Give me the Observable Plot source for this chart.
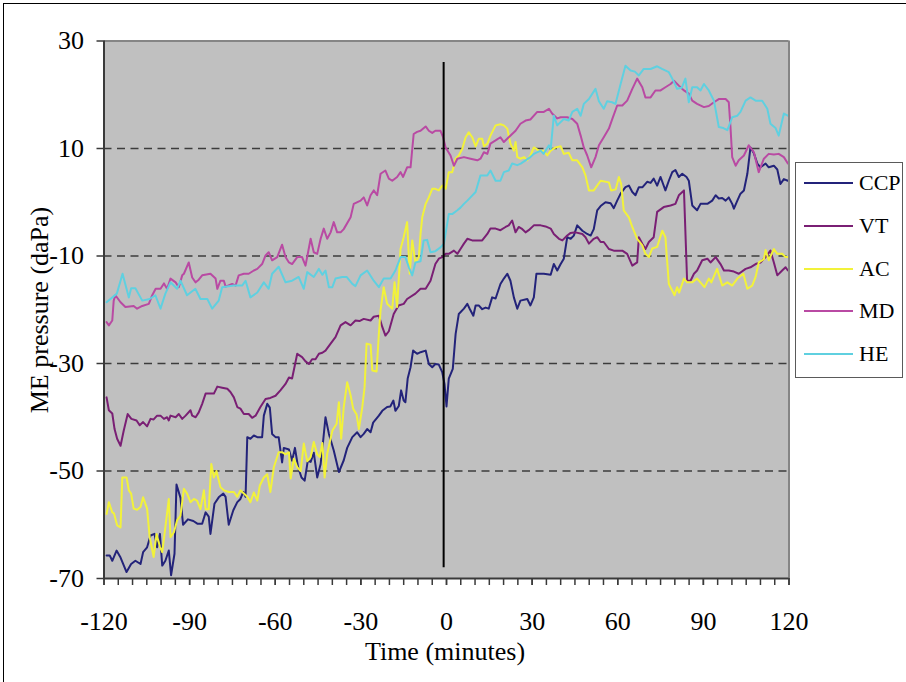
<!DOCTYPE html>
<html><head><meta charset="utf-8">
<script src="https://cdn.jsdelivr.net/npm/d3@7"></script>
<script src="https://cdn.jsdelivr.net/npm/@observablehq/plot@0.6"></script>
<style>
html,body{margin:0;padding:0;background:#fff;width:906px;height:682px;overflow:hidden;font-family:"Liberation Serif","Times New Roman",serif;color:#000;}
#frame{position:absolute;left:3px;top:3px;width:1200px;height:1200px;border:1.5px solid #000;}
#chart{position:absolute;left:0;top:0;}
#legend{position:absolute;left:795px;top:162px;width:106px;height:214px;border:1.5px solid #5a5a5a;background:#fff;}
.sw{position:absolute;left:8px;width:49px;height:2px;}
.lbl{position:absolute;left:63px;font-size:22px;line-height:22px;}
#xlabel{position:absolute;left:445px;top:652px;transform:translate(-50%,-50%);font-size:26px;line-height:26px;white-space:nowrap;}
#ylabel{position:absolute;left:40px;top:310px;transform:translate(-50%,-50%) rotate(-90deg);font-size:26px;line-height:26px;white-space:nowrap;}
</style></head>
<body>
<div id="frame"></div>
<div id="chart"></div>
<div id="legend"></div>
<div id="xlabel"></div>
<div id="ylabel"></div>
<script>
// ---- tick / axis values ----
const xTickValues = [-120, -90, -60, -30, 0, 30, 60, 90, 120];
const xTickLabels = ["-120", "-90", "-60", "-30", "0", "30", "60", "90", "120"];
const xMinorTicks = d3.range(-120, 121, 5);
const yTickValues = [-70, -50, -30, -10, 10, 30];
const yTickLabels = ["-70", "-50", "-30", "-10", "10", "30"];
const gridValues = [-50, -30, -10, 10];
const xTitle = "Time (minutes)";
const yTitle = "ME pressure (daPa)";
const eventMarker = [{t: -1, from: -68, to: 26}];

// ---- series ([time in minutes, pressure in daPa]) ----
const seriesNames = ["CCP", "VT", "AC", "MD", "HE"];
const seriesColors = ["#23237a", "#7a1f74", "#f2f23a", "#b94aa3", "#5fd0e0"];

const ccp = [[-119.1,-65.7],[-118,-65.7],[-117.1,-66.7],[-115.6,-64.8],[-114.2,-66.1],[-112.1,-68.8],[-110.5,-67.3],[-109,-66.7],[-107.2,-67.3],[-106.3,-65.1],[-104.9,-64.2],[-103.7,-62],[-102.3,-61.7],[-101.4,-64.2],[-100.4,-61.7],[-99.6,-67.6],[-98.5,-66.7],[-97.3,-64.8],[-96.5,-69.4],[-95.3,-65.4],[-94.6,-52.5],[-93.2,-55],[-92.3,-60],[-90.6,-59],[-88.7,-59.3],[-87.3,-59.8],[-85.6,-59.8],[-84.4,-57.7],[-83.3,-58.5],[-82.7,-61.7],[-81.3,-56.1],[-79.8,-54.9],[-78.2,-54.2],[-77.4,-54.8],[-76.3,-60],[-74.7,-57.3],[-73.3,-55.8],[-72.2,-55.2],[-71.2,-53.9],[-70.4,-54.8],[-69.8,-43.7],[-68.7,-44],[-67.5,-43.4],[-66.3,-43.7],[-64.6,-43.7],[-64,-39.7],[-62.8,-37.5],[-61.9,-38.2],[-61.1,-43.1],[-59.9,-43.7],[-58.8,-43.7],[-57.6,-48.4],[-57,-45.7],[-55.2,-46],[-54.1,-48.1],[-53.1,-45.7],[-52,-49.3],[-50.8,-51.2],[-49.7,-51.8],[-48.6,-48.1],[-47.6,-48.3],[-46.5,-46.6],[-45.3,-51.2],[-44.1,-48.7],[-43.2,-44.3],[-42.4,-40],[-41.2,-43.1],[-39.5,-46.2],[-37.7,-50.2],[-36,-48],[-34.8,-45.7],[-33,-43.7],[-31.3,-42.8],[-30.1,-43.7],[-29,-43.1],[-27.8,-42.2],[-26.6,-42.8],[-25.7,-41],[-23.7,-39.7],[-22.5,-38.8],[-20.8,-38.1],[-19.7,-38],[-18.6,-36.9],[-17.9,-38.8],[-16.7,-37.9],[-15.9,-35],[-15,-36.9],[-14.4,-37.2],[-13.6,-32.8],[-12.6,-30.7],[-11.7,-27.6],[-10.3,-28.2],[-9.1,-27.9],[-7.3,-27.6],[-6.2,-30.1],[-5,-30.7],[-3.9,-30.1],[-2.7,-30.2],[-1.5,-31.6],[-0.7,-33.8],[0,-38],[0.8,-32.8],[2.2,-31],[3.2,-24.5],[4.3,-20.8],[6.1,-19.8],[7.3,-18.9],[8.2,-19.9],[9.4,-21.1],[10.2,-19.2],[11.3,-19.2],[12.5,-19.9],[13.7,-19.6],[14.8,-19.8],[16,-17.7],[17.2,-17.9],[18.9,-15.2],[20.1,-14.2],[21.3,-13.3],[22.4,-14.6],[23.6,-17.7],[24.8,-19.8],[25.9,-18.3],[28.3,-18],[29.4,-19.2],[30.6,-17.7],[31.5,-13.3],[34.1,-13.3],[36.5,-13.5],[37.6,-11.5],[38.8,-12.7],[40,-11.5],[41.1,-10.5],[42.3,-6.5],[43.5,-6.8],[44.6,-6.2],[45.8,-4.3],[47.6,-5.3],[49.3,-5.9],[50.5,-6.2],[51.6,-5],[52.8,-1.5],[54,-0.7],[55.7,0],[57.5,-0.2],[58.6,-1.1],[59.8,0.3],[61,1.6],[62.7,2.8],[63.9,3.1],[65.1,1.9],[66.2,1.3],[67.4,2.8],[68.7,2.8],[70.3,3.8],[71.5,3.6],[72.6,4.4],[73.8,3.1],[75,4.7],[76.7,2.2],[77.9,4],[79.1,5.6],[80.2,6],[81.4,4.7],[82.6,5.3],[84.1,4.7],[84.9,4],[86.1,-0.6],[87.8,-1.5],[89,-0.3],[91.4,-0.3],[93.1,0.3],[94.3,1.3],[95.4,0.7],[96.6,0.8],[97.8,0.3],[98.9,0.9],[100.1,-0.3],[100.7,-1.2],[101.9,0.3],[103,1.6],[104.2,2.2],[105.4,5.3],[106.5,10.2],[107.7,9.1],[108.9,7.2],[110,6.5],[111.8,7.2],[112.9,6.5],[114.7,6.8],[115.9,6.1],[117,3.4],[118.2,4.3],[119.6,4]];

const vt = [[-119.1,-36.3],[-118.3,-38.7],[-117.1,-39.3],[-116.3,-42.2],[-115.4,-44],[-114.2,-45.3],[-113.1,-42.5],[-111.7,-39.4],[-110.4,-40.3],[-108.6,-40.6],[-107.5,-41.5],[-106.3,-40.9],[-104.9,-41.7],[-103.7,-40.3],[-102.6,-40.4],[-101.4,-39.7],[-100.2,-39.7],[-99,-40.3],[-97.9,-40],[-97.3,-40.6],[-96.7,-39.7],[-94.9,-40],[-93.8,-39.4],[-92.6,-40.3],[-91.4,-39.7],[-89.7,-38.7],[-89.1,-39.7],[-87.9,-40],[-86.8,-39.1],[-85.6,-37.5],[-84.4,-35.6],[-82.7,-35.6],[-81.5,-35.6],[-80.3,-34.3],[-78.6,-34.5],[-76.8,-34.7],[-75.7,-35.3],[-74.5,-36.3],[-73.3,-38.1],[-72.2,-38.4],[-71,-39.4],[-69.3,-39.4],[-68.1,-40.1],[-66.9,-39.7],[-65.2,-38.1],[-63.4,-36.6],[-61.7,-36.4],[-59.9,-36],[-58.2,-35],[-56.4,-33.8],[-55.2,-32.6],[-54.1,-32.8],[-52.3,-28.2],[-50.6,-28.8],[-49.4,-29.6],[-48.2,-30.1],[-47.1,-29.2],[-45.9,-29.2],[-44.7,-28.2],[-43.5,-28],[-42.4,-27.6],[-40.6,-26.3],[-38.9,-25.1],[-37.1,-22.9],[-35.4,-22.3],[-33.6,-22.9],[-31.9,-22],[-30.5,-22.1],[-29,-21.7],[-26.6,-22],[-25.5,-21.3],[-23.7,-21.1],[-22.5,-23.2],[-21.4,-24.8],[-20.2,-24],[-18.5,-20.8],[-16.8,-19.2],[-15,-18.9],[-13.8,-18],[-10.9,-17],[-9.1,-16.1],[-7.3,-16.1],[-5.6,-14.6],[-3.9,-11.5],[-2.7,-10.5],[-1.5,-10.2],[-0.3,-9.6],[0.8,-9.6],[2.6,-9],[3.8,-9.6],[4.9,-8.7],[6.1,-7.7],[7.3,-6.8],[9,-7.1],[10.8,-7.1],[12.5,-7.1],[14.3,-5.9],[15.4,-4.9],[17.2,-4.9],[18.9,-5.2],[20.7,-4.6],[21.8,-4.3],[23,-3.4],[24.2,-5.6],[25.3,-4.6],[26.3,-4.9],[27.7,-5.6],[28.8,-5.2],[30.6,-4.3],[33,-4.3],[34.7,-4.5],[36.5,-4.9],[37.6,-5.9],[39.4,-6.8],[40.6,-7.1],[42.3,-6.2],[43.5,-5.7],[45.2,-5.6],[47.6,-5.9],[48.7,-6.5],[49.9,-7.7],[51.6,-6.8],[52.8,-6.5],[54,-7.4],[55.1,-7.4],[56.9,-8.7],[58.6,-9],[60.4,-9],[61.6,-9],[63.3,-9.6],[65.1,-11.8],[66.8,-11.2],[67.4,-6.5],[68.6,-7.7],[69.7,-8.7],[70.9,-7.4],[72.6,-6.5],[73.8,-1.8],[76.1,-0.9],[78.5,-0.6],[80.2,-0.3],[81.4,1.3],[83.2,2.2],[84.3,-14.6],[85.5,-14.6],[86.7,-13.3],[87.8,-12.7],[89.6,-10.8],[91.4,-10.5],[92.5,-11.2],[94.3,-10.2],[96,-11.5],[97.2,-12.7],[98.9,-12.7],[100.7,-12.9],[102.4,-13.3],[104.8,-12.4],[106.5,-12.1],[108.3,-11.5],[110,-11.2],[111.8,-10.2],[113.5,-9],[114.7,-11.2],[115.9,-13.6],[117.6,-12.7],[118.8,-12.1],[119.6,-12.7]];

const ac = [[-119.1,-58],[-118.3,-55.8],[-117.1,-57.7],[-116.5,-57.9],[-115.4,-60.1],[-114.2,-60.5],[-113.6,-51.2],[-112.1,-51.2],[-111.3,-53.6],[-110.5,-54.2],[-109.6,-57],[-108.4,-57.2],[-107.2,-56.7],[-106.3,-54.9],[-104.9,-57],[-104,-62.3],[-102.6,-66],[-101.6,-61.7],[-100.4,-64.1],[-99.6,-65.1],[-98.5,-60.5],[-97.3,-55.2],[-96.7,-62.3],[-95.5,-61.4],[-94.4,-59.2],[-93.2,-58.3],[-92,-53.3],[-90.9,-54.2],[-89.7,-55.8],[-88.5,-55.2],[-87.4,-55.5],[-86.2,-57.1],[-85,-53.6],[-84.4,-57.1],[-83.3,-57.1],[-82.4,-48.7],[-81.5,-51.2],[-80.6,-50],[-79.2,-53],[-78,-53.6],[-76.3,-53.9],[-74.5,-53.9],[-73.3,-54.8],[-72.2,-53.6],[-71,-54.2],[-69.8,-54.8],[-68.7,-55.8],[-67.5,-54],[-66.3,-55.5],[-65.4,-52.7],[-64,-51.2],[-62.8,-50.6],[-61.7,-53.9],[-60.5,-49.3],[-58.8,-46.5],[-57.6,-46.5],[-56.4,-46.9],[-55.2,-46.5],[-54.6,-51.4],[-53.5,-47.7],[-52.3,-49.3],[-51.1,-50],[-50,-44.9],[-48.8,-48.2],[-47.6,-47.4],[-46.5,-44.6],[-45.3,-46.9],[-44.4,-47.4],[-43.5,-44.8],[-42.7,-51.2],[-41.8,-46.8],[-40,-42.5],[-38.5,-41.2],[-37.7,-37.2],[-36.9,-44],[-36,-38.1],[-34.8,-33.5],[-33.6,-35.9],[-32.7,-38.4],[-31.5,-39.5],[-30.7,-42.2],[-29.5,-38.1],[-28.7,-34.4],[-28,-26.3],[-26.6,-26.5],[-26,-31.3],[-24.5,-31.5],[-23.7,-24.5],[-23.1,-20.1],[-22,-15.8],[-20.8,-18.9],[-19,-19.8],[-18.2,-14.9],[-17.3,-19.5],[-16.1,-8.7],[-15,-6.5],[-13.8,-3.7],[-12.9,-13.3],[-12,-7.1],[-10.9,-11.2],[-9.7,-10.2],[-9.1,-5.9],[-8.5,-2.8],[-7.3,-0.3],[-6.2,0.9],[-5,2.5],[-3.9,2.5],[-2.7,2.2],[-1.5,3.1],[-0.3,2.5],[0.8,5.6],[2,5.6],[3.2,8.1],[4.3,8.7],[5.5,9.9],[6.7,12.1],[7.8,13],[9,12.1],[10.2,10.4],[11.3,11.8],[12.5,11.8],[13.1,10.4],[14.3,10.9],[15.4,12.4],[17.2,14.3],[18.9,14.5],[20.1,14.3],[21.3,13.7],[22.4,10.9],[23.6,9.6],[24.2,11.2],[24.8,8.4],[25.9,8.1],[27.2,8.4],[28.3,7.8],[29.4,8.7],[30.6,10.2],[32.4,9.6],[34,9.6],[35.3,8.7],[36.5,9.6],[38.2,10.2],[40,10.4],[41.1,9],[42.8,9.2],[44.1,7.8],[45.8,7.8],[47.6,6.5],[48.7,5],[49.9,2.2],[51.6,2.2],[54,4],[56.9,3.7],[57.7,2.2],[59.3,2.4],[60.4,4.7],[61.2,3.4],[62.1,-1.5],[63.9,-2.8],[65.1,-4.6],[66.8,-6.8],[68.6,-8],[69.7,-9.6],[70.9,-10.2],[72.1,-8.6],[73.8,-8.3],[75.6,-5.3],[76.7,-6.5],[77.9,-15.2],[79.9,-17.3],[80.8,-15.8],[81.5,-16.8],[83.2,-14.2],[84.3,-14.9],[86.1,-14.9],[87.8,-14.2],[90.4,-15.8],[91.9,-14.2],[92.8,-14.9],[94.8,-12.4],[96.6,-15.5],[98.4,-14.9],[100.1,-15.5],[101.9,-14.2],[104,-13.3],[105.4,-16.1],[107.1,-15.5],[108.3,-13.9],[109.4,-11.2],[111.2,-10.6],[111.8,-8.9],[112.9,-10.8],[114.7,-8.7],[115.9,-9.6],[117.6,-9.6],[118.8,-10.2],[119.6,-10.2]];

const md = [[-119.1,-22.3],[-118.3,-22.9],[-117.1,-22],[-116.6,-18.3],[-116,-17.3],[-114.2,-18.6],[-112.5,-19.5],[-109.6,-19.3],[-108.4,-19.8],[-106.6,-19.3],[-104.3,-18.9],[-103.1,-17.3],[-101.9,-16.1],[-100.2,-16.1],[-99,-15.1],[-97.9,-16.1],[-96.7,-14.2],[-94.9,-14.9],[-93.8,-15.8],[-92.6,-13.6],[-92,-13.3],[-90.3,-11.2],[-89.1,-14],[-87.9,-14.9],[-86.8,-14.4],[-85.6,-13.6],[-82.7,-13.3],[-80.9,-14.2],[-80.3,-16.1],[-79.2,-14.6],[-78,-14.6],[-77.4,-15.7],[-75.1,-15.2],[-73.9,-15.5],[-72.8,-13.6],[-71,-13.3],[-69.3,-13.3],[-67.5,-12.7],[-66.3,-12.4],[-64.6,-11.5],[-63.4,-9.9],[-62.3,-9.3],[-61.1,-10.8],[-59.3,-10.2],[-57.6,-7.9],[-56.4,-10.2],[-55.2,-11.2],[-54.1,-11.5],[-52.3,-10.2],[-50.6,-10.2],[-49.4,-11.8],[-47.6,-6.8],[-46.5,-9.3],[-45.3,-9.6],[-44.1,-6.8],[-43,-4.9],[-41.8,-6.8],[-40.6,-5.6],[-39.5,-3.7],[-38.3,-5.6],[-37.1,-5.6],[-36,-5],[-33.6,-2.8],[-32.5,-0.3],[-30.1,0.3],[-29,0.9],[-27.8,-0.6],[-26.6,1.3],[-25.5,2.2],[-24.3,1.3],[-23.1,5.3],[-21.4,5.9],[-20.2,4.4],[-19,4],[-17.3,4.7],[-16.1,5.6],[-15.2,4.7],[-13.8,6.5],[-12.6,6.5],[-11.5,12.7],[-10.3,13.1],[-9.1,13.3],[-7.3,14.1],[-6.2,13.3],[-5,12.9],[-3.9,13.3],[-2.1,13.3],[-1.2,12.1],[-0.3,10.2],[1.4,8.7],[2.6,6.8],[3.8,8.1],[6.1,8.4],[8.4,8.1],[10.8,7.8],[11.9,8.1],[13.1,9.3],[14.3,9],[15.4,10.9],[17.2,11.5],[18.9,12.1],[20.1,11.2],[21.8,12.1],[24.2,13.3],[25.9,14.6],[27.7,15.2],[29.4,15.4],[31.8,16.8],[34.1,16.8],[35.9,17.4],[37,16.5],[38.8,15.6],[40,15.8],[42.3,15.8],[44.1,15.5],[45.8,14.6],[47,12.4],[48.1,10.2],[49.3,8.7],[50.7,6.5],[52.2,8.4],[53.4,10.6],[55.1,12.1],[56.9,13.7],[58.1,15.5],[59.8,18],[61.6,18],[63.3,18.9],[65.1,21.1],[66.8,23],[68.6,21.4],[69.7,19.5],[71.5,19.5],[73.2,20.8],[75,20.8],[76.7,21.4],[78.5,22],[79.7,22.6],[81.4,21.7],[83.2,20.8],[84.9,20.2],[86.1,18.9],[87.8,18.3],[90.2,17.7],[91.9,17.9],[93.7,18.6],[95.4,19.2],[97.8,19.2],[98.9,18.6],[99.5,14],[100.1,8.4],[101.3,6.8],[102.4,7.8],[104.2,8.7],[105.9,10.6],[107.7,9.3],[109.4,5.6],[111.2,8.1],[112.9,9],[114.7,8.9],[116.4,9],[118.2,8.4],[119.6,7.2]];

const he = [[-119.1,-18.6],[-115.5,-17],[-113.5,-13.3],[-111.3,-17.7],[-110.5,-16],[-109,-16],[-106.6,-18.3],[-104,-18],[-102,-17.3],[-100.2,-19.8],[-98.5,-17],[-96.7,-14.9],[-94.4,-16.1],[-93.2,-14.6],[-90.9,-17.3],[-88,-16.1],[-86.2,-18],[-83.8,-18],[-82.1,-19.8],[-79.8,-18.3],[-78.6,-15.8],[-74.5,-15.5],[-71.6,-15.5],[-70.4,-14.6],[-68.7,-17.7],[-66.3,-16.8],[-64,-14.9],[-62.3,-16.1],[-61.1,-13.3],[-58.8,-12],[-56.4,-14.9],[-54.1,-14.6],[-51.8,-13.9],[-50,-16.1],[-48.8,-13],[-46.5,-13.9],[-44.7,-12.4],[-43.5,-13.5],[-42.4,-12.7],[-41.2,-15.8],[-40,-15.8],[-38.9,-14.2],[-36.5,-13.9],[-35,-13.9],[-33,-15.2],[-31.9,-15.6],[-30.1,-13.6],[-27.8,-12.7],[-25.5,-14.6],[-23.7,-15.8],[-22,-14.2],[-19.6,-14.2],[-17.9,-12.7],[-16.1,-10.2],[-14.4,-10.2],[-13.2,-12.1],[-12,-13.6],[-10.9,-11.2],[-9.1,-11],[-8,-7.1],[-6.8,-7],[-5.6,-9.3],[-3.9,-9.1],[-2.1,-8.4],[-0.9,-7.7],[0.8,-2.2],[2,-2.2],[3.8,-1.5],[4.9,-1],[6.1,-0.3],[7.3,0.3],[8.4,0.9],[10.2,1.9],[11.9,5],[14.3,5],[15.4,5.9],[17.2,4],[18.9,4],[20.1,5.6],[21.8,5.9],[23,7.2],[24.8,6.9],[26,7.2],[27.7,7.8],[29.4,8.4],[30.6,9],[33,9.6],[34,9],[35.9,10.6],[36.5,9.9],[37.6,16.1],[38.8,14.3],[41.1,15.5],[42.8,15.2],[44.1,16.8],[45.8,17.4],[47,16.1],[48.1,18.3],[49.9,19.2],[52.2,21.1],[53.4,18.8],[55.1,17.4],[56.3,18.8],[58,18.6],[59.2,18.3],[61,22],[62.7,25.4],[64.5,24.5],[66,24.3],[67.4,23.6],[69.1,24.8],[71.5,24.8],[73.8,25.3],[75.5,24.8],[77.9,24.2],[79.1,23],[80.8,21.1],[82.4,21.3],[83.7,23],[84.9,18.6],[86.1,21.4],[87.8,21.4],[89,20.8],[90.2,22],[91.9,20.8],[93.7,18.9],[95.4,14],[97,13.8],[98.4,13.4],[100.1,15.8],[101.9,16.1],[103,16.8],[104.8,18.9],[106.5,19.5],[108.3,18.9],[110.6,18.9],[112.4,17.4],[113.5,14.6],[115.3,13.8],[116.4,12.4],[118.2,16.5],[119.6,16.1]];

const seriesData = [ccp, vt, ac, md, he];
const rows = seriesData.flatMap((arr, i) => arr.map(([t, v]) => ({series: seriesNames[i], t, v})));

const axisDark = "#3a3a3a";
const chart = Plot.plot({
  width: 906,
  height: 682,
  marginLeft: 103.5,
  marginRight: 117.5,
  marginTop: 40.5,
  marginBottom: 104,
  style: {background: "transparent", fontFamily: '"Liberation Serif", "Times New Roman", serif', fontSize: "26px", color: "#000", overflow: "visible"},
  x: {domain: [-120, 120]},
  y: {domain: [-70, 30]},
  marks: [
    Plot.frame({fill: "#c0c0c0", stroke: "none"}),
    Plot.ruleY(gridValues, {stroke: "#3c3c3c", strokeWidth: 1.5, strokeDasharray: "8,5.5"}),
    ...seriesNames.map((name, i) => Plot.line(rows.filter(d => d.series === name), {x: "t", y: "v", stroke: seriesColors[i], strokeWidth: 2, strokeLinejoin: "round"})),
    Plot.ruleX(eventMarker, {x: "t", y1: "from", y2: "to", stroke: "#000", strokeWidth: 2}),
    Plot.ruleY([30], {stroke: "#858585", strokeWidth: 2}),
    Plot.ruleX([120], {stroke: "#858585", strokeWidth: 2}),
    Plot.ruleX([-120], {stroke: axisDark, strokeWidth: 2}),
    Plot.ruleY([-70], {stroke: axisDark, strokeWidth: 2}),
    Plot.axisX({ticks: xMinorTicks, tickSize: 7, tickFormat: () => "", stroke: axisDark, strokeWidth: 1.5, label: null}),
    Plot.axisX({ticks: xTickValues, tickSize: 7, tickPadding: 26, stroke: axisDark, strokeWidth: 1.5, fill: "#000", label: null,
      tickFormat: d => xTickLabels[xTickValues.indexOf(d)]}),
    Plot.axisY({ticks: yTickValues, tickSize: 7, tickPadding: 13, stroke: axisDark, strokeWidth: 1.5, fill: "#000", label: null,
      tickFormat: d => yTickLabels[yTickValues.indexOf(d)]})
  ]
});
document.getElementById("chart").appendChild(chart);

document.getElementById("xlabel").textContent = xTitle;
document.getElementById("ylabel").textContent = yTitle;

const legend = document.getElementById("legend");
seriesNames.forEach((name, i) => {
  const top = 20 + i * 42.75;
  const sw = document.createElement("div");
  sw.className = "sw";
  sw.style.top = (top - 1) + "px";
  sw.style.background = seriesColors[i];
  legend.appendChild(sw);
  const lb = document.createElement("div");
  lb.className = "lbl";
  lb.style.top = (top - 11) + "px";
  lb.textContent = name;
  legend.appendChild(lb);
});
</script>
</body></html>
